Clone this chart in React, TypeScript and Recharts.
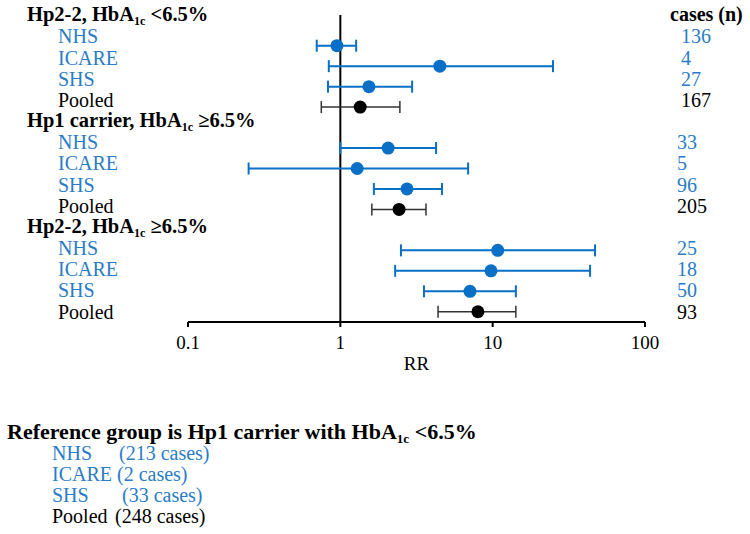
import React from 'react';
import { ScatterChart, Scatter, XAxis, YAxis, ErrorBar, ReferenceLine } from 'recharts';

// ---- data ----
const groupPrefixes = ['Hp2-2, HbA', 'Hp1 carrier, HbA', 'Hp2-2, HbA'];
const groupSuffixes = [' <6.5%', ' \u22656.5%', ' \u22656.5%'];
const studies = ['NHS', 'ICARE', 'SHS', 'Pooled'];
const rrValues = [0.95, 4.5, 1.54, 1.35, 2.06, 1.29, 2.74, 2.43, 10.8, 9.75, 7.1, 8.0];
const ciLower = [0.7, 0.84, 0.83, 0.75, 1.0, 0.25, 1.66, 1.61, 2.5, 2.29, 3.54, 4.38];
const ciUpper = [1.27, 24.9, 2.96, 2.46, 4.25, 6.9, 4.65, 3.65, 47, 43.6, 14.2, 14.2];
const caseCounts = [136, 4, 27, 167, 33, 5, 96, 205, 25, 18, 50, 93];
const xTicks = [0.1, 1, 10, 100];
const refStudies = ['NHS', 'ICARE', 'SHS', 'Pooled'];
const refCases = [213, 2, 33, 248];

// ---- styles ----
const BLUE = '#0A6FC6';
const TEXT_BLUE = '#2A7CC7';
const FONT = 'Liberation Serif, DejaVu Serif, Noto Serif, serif';
const FS = 20;

type Row = { row: number; rr: number; err: [number, number]; pooled: boolean };

const rows: Row[] = rrValues.map((rr, i) => {
  const g = Math.floor(i / 4);
  const s = i % 4;
  return { row: g * 5 + 1 + s, rr, err: [rr - ciLower[i], ciUpper[i] - rr], pooled: s === 3 };
});
const studyRows = rows.filter((r) => !r.pooled);
const pooledRows = rows.filter((r) => r.pooled);
const rowTicks = Array.from({ length: 15 }, (_, i) => i);

const RowTick = (props: any) => {
  const { y, payload } = props;
  const r = payload.value as number;
  const g = Math.floor(r / 5);
  const s = r % 5;
  const ty = y - 10 + 0.7 * r;
  if (s === 0) {
    return (
      <g>
        <text x={27} y={ty - 1} dy="0.35em" style={{ fontFamily: FONT }} fontSize={20.5} fontWeight="bold" fill="#000">
          {groupPrefixes[g]}
          <tspan fontSize={12} dy={4}>1c</tspan>
          <tspan dy={-4}>{groupSuffixes[g]}</tspan>
        </text>
        {g === 0 && (
          <text x={670} y={ty - 1} dy="0.35em" style={{ fontFamily: FONT }} fontSize={FS} fontWeight="bold" fill="#000">
            cases (n)
          </text>
        )}
      </g>
    );
  }
  const idx = g * 4 + (s - 1);
  const color = s === 4 ? '#000' : TEXT_BLUE;
  return (
    <g>
      <text x={58} y={ty} dy="0.35em" style={{ fontFamily: FONT }} fontSize={FS} fill={color}>
        {studies[s - 1]}
      </text>
      <text x={g === 0 ? 681 : 677} y={ty} dy="0.35em" style={{ fontFamily: FONT }} fontSize={FS} fill={color}>
        {caseCounts[idx]}
      </text>
    </g>
  );
};

const BlueDot = (p: any) => <circle cx={p.cx} cy={p.cy} r={6.5} fill={BLUE} />;
const BlackDot = (p: any) => <circle cx={p.cx} cy={p.cy} r={6.5} fill="#000" />;

const refX = [119, 117, 122, 115];

export default function App() {
  return (
    <div style={{ position: 'absolute', left: 0, top: 0, width: 750, height: 534, background: '#fff', fontFamily: FONT }}>
      <ScatterChart width={750} height={534} margin={{ top: 15, right: 105, bottom: 152, left: 0 }} style={{ fontFamily: FONT }}>
        <XAxis
          type="number"
          dataKey="rr"
          scale="log"
          domain={[0.1, 100]}
          ticks={xTicks}
          allowDataOverflow
          height={60}
          axisLine={{ stroke: '#000', strokeWidth: 2 }}
          tickLine={{ stroke: '#000', strokeWidth: 2 }}
          tickSize={5}
          tickMargin={9}
          tick={{ fill: '#000', fontSize: 19, style: { fontFamily: FONT } }}
          label={{ value: 'RR', position: 'insideBottom', offset: 12, fill: '#000', fontSize: 19, style: { fontFamily: FONT } }}
        />
        <YAxis
          type="number"
          dataKey="row"
          domain={[-0.5, 14.5]}
          reversed
          ticks={rowTicks}
          interval={0}
          width={188}
          axisLine={false}
          tickLine={false}
          tick={<RowTick />}
        />
        <ReferenceLine x={1} stroke="#000" strokeWidth={2} />
        <Scatter data={studyRows} shape={BlueDot} isAnimationActive={false}>
          <ErrorBar dataKey="err" direction="x" width={6} stroke={BLUE} strokeWidth={2} />
        </Scatter>
        <Scatter data={pooledRows} shape={BlackDot} isAnimationActive={false}>
          <ErrorBar dataKey="err" direction="x" width={6} stroke="#333" strokeWidth={1.5} />
        </Scatter>
      </ScatterChart>
      <div
        style={{
          position: 'absolute',
          left: 7,
          top: 421,
          fontSize: FS,
          lineHeight: '21px',
          color: '#000',
          whiteSpace: 'nowrap',
        }}
      >
        <div style={{ fontWeight: 'bold', fontSize: 22, lineHeight: '22px', height: 22 }}>
          Reference group is Hp1 carrier with HbA<sub style={{ fontSize: 13, verticalAlign: '-4px', lineHeight: 0 }}>1c</sub> &lt;6.5%
        </div>
        {refStudies.map((name, i) => (
          <div key={name} style={{ position: 'relative', height: 21, color: i === 3 ? '#000' : TEXT_BLUE }}>
            <span style={{ position: 'absolute', left: 45 }}>{name}</span>
            <span style={{ position: 'absolute', left: refX[i] - 7 }}>({refCases[i]} cases)</span>
          </div>
        ))}
      </div>
    </div>
  );
}
